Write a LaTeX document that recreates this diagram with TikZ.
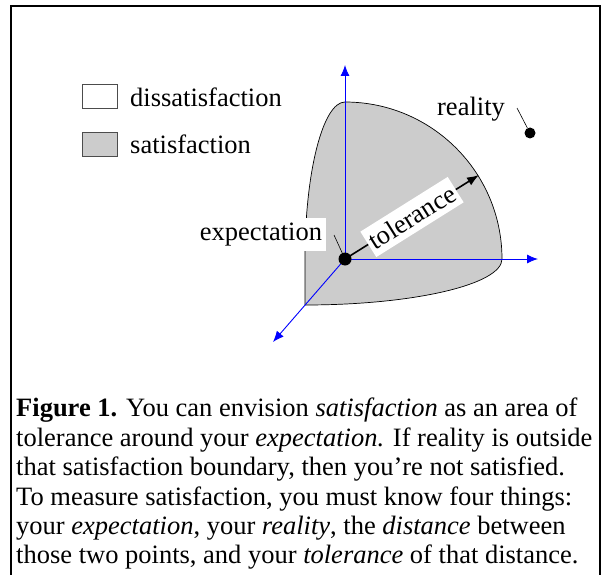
\documentclass[tikz,border=0pt]{standalone}
\usepackage{fontspec}
\setmainfont{Liberation Serif}
\usetikzlibrary{arrows.meta}
\begin{document}
\begin{tikzpicture}[
  x=1pt, y=1pt,
  font=\fontsize{26.5}{29.4}\selectfont,
  axis/.style={blue, line width=0.9pt, -{Latex[length=11pt, width=9pt]}},
  dot/.style={circle, fill=black, inner sep=0pt, minimum size=#1},
  lbl/.style={fill=white, inner xsep=4pt, inner ysep=4.5pt},
  key/.style={draw=black!70, line width=1pt, minimum width=35pt, minimum height=24pt, inner sep=0pt},
  keytxt/.style={anchor=west, inner sep=0pt},
  leader/.style={line width=0.6pt},
]
  \useasboundingbox (0,0) rectangle (602,-575);
  \draw[line width=2pt] (11,-590) -- (11,-6) -- (600,-6) -- (600,-590);

  % satisfaction region
  \filldraw[fill=black!20, line width=0.7pt]
    (345,-102) arc[start angle=90, end angle=0, radius=157]
    arc[start angle=0, end angle=-90, x radius=197, y radius=46]
    -- (305,-259)
    arc[start angle=180, end angle=90, x radius=40, y radius=157] -- cycle;

  \coordinate (o) at (345,-259);
  \coordinate (xend) at (538,-259);
  \coordinate (yend) at (345,-65);
  \coordinate (zend) at (273,-342);
  \coordinate (edge) at (479,-175);

  \draw[axis] (o) -- (yend);
  \draw[axis] (o) -- (xend);
  \draw[axis] (o) -- (zend);

  \draw[line width=1.6pt, -{Latex[length=12pt, width=9pt]}] (o) -- (edge)
    node[midway, sloped, fill=white, inner xsep=3pt, minimum height=30pt] (tol) {tolerance};

  \node[dot=13pt] (expect) at (o) {};
  \node[dot=11pt] (real) at (530,-133) {};

  \node[lbl] (explbl) at (261,-234.5) {expectation};
  \node[inner sep=0pt] (reallbl) at (471,-109) {reality};

  \coordinate (expfoot) at (334,-235);
  \coordinate (realfoot) at (517,-108);
  \draw[leader] (expfoot) -- (expect);
  \draw[leader] (realfoot) -- (real);

  % legend
  \node[key, fill=white] (keyd) at (99.5,-97) {};
  \node[key, fill=black!20] (keys) at (99.5,-144.5) {};
  \node[keytxt] at (130,-97) {dissatisfaction};
  \node[keytxt] at (130,-144.5) {satisfaction};

  % caption
  \node[anchor=north west, align=left, inner sep=0pt] (cap) at (16,-398) {%
    \textbf{Figure 1.} You can envision \textit{satisfaction} as an area of\\
    tolerance around your \textit{expectation.} If reality is outside\\
    that satisfaction boundary, then you’re not satisfied.\\
    To measure satisfaction, you must know four things:\\
    your \textit{expectation}, your \textit{reality}, the \textit{distance} between\\
    those two points, and your \textit{tolerance} of that distance.};
\end{tikzpicture}
\end{document}
